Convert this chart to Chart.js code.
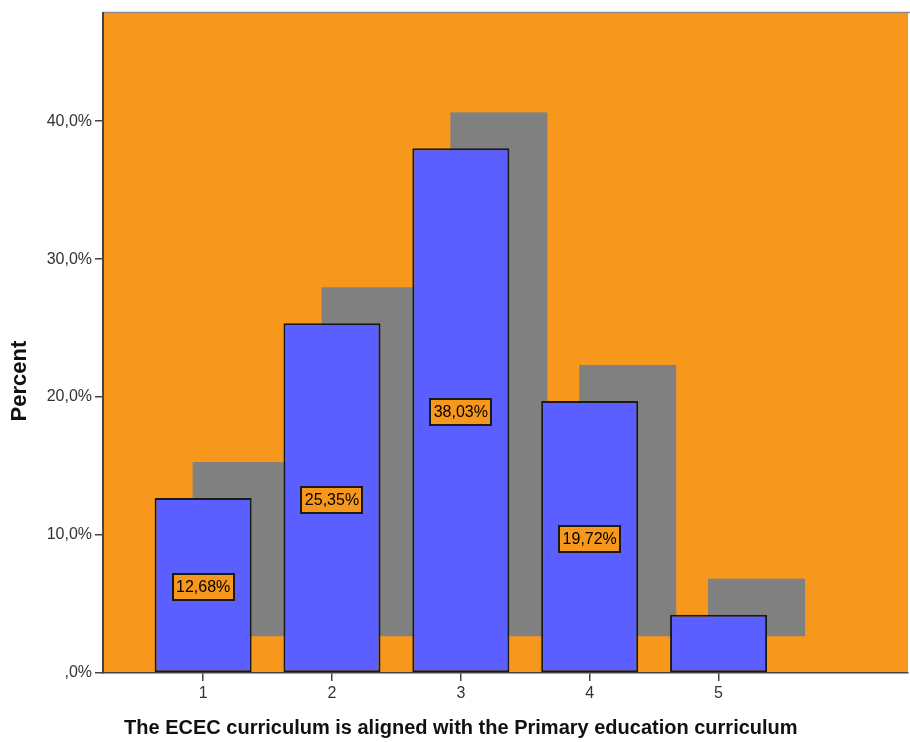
<!DOCTYPE html>
<html>
<head>
<meta charset="utf-8">
<script src="https://cdn.jsdelivr.net/npm/chart.js@4"></script>
<style>
  html, body { margin: 0; padding: 0; background: #ffffff; }
  #wrap { width: 910px; height: 742px; }
</style>
</head>
<body>
<div id="wrap"><canvas id="chart" width="910" height="742"></canvas></div>
<script>
// Survey answers on a 1–5 scale and the share of respondents for each.
const categories = [1, 2, 3, 4, 5];
const percents = [12.68, 25.35, 38.03, 19.72, 4.23];
const showValueLabel = [true, true, true, true, false];
const yTickValues = [0, 10, 20, 30, 40];

const X_TITLE = 'The ECEC curriculum is aligned with the Primary education curriculum';
const Y_TITLE = 'Percent';

const ORANGE = '#F7981D';
const BAR_BLUE = '#5B5FFF';
const SHADOW = '#808080';
const FONT = '"Liberation Sans", Arial, sans-serif';

function fmtPercent(v, digits) {
  const s = v.toFixed(digits).replace('.', ',');
  return (s.startsWith('0,') ? s.slice(1) : s) + '%';
}

// Orange plot background plus a thin frame line along the top.
const backgroundPlugin = {
  id: 'plotBackground',
  beforeDraw(chart) {
    const { ctx, chartArea: a } = chart;
    ctx.save();
    ctx.fillStyle = '#ffffff';
    ctx.fillRect(0, 0, chart.width, chart.height);
    ctx.fillStyle = ORANGE;
    ctx.fillRect(a.left, a.top, a.right - a.left, a.bottom - a.top);
    ctx.strokeStyle = '#8a8a8a';
    ctx.lineWidth = 1.5;
    ctx.beginPath();
    ctx.moveTo(a.left, a.top);
    ctx.lineTo(chart.width, a.top);
    ctx.stroke();
    ctx.restore();
  }
};

// Grey drop shadow behind every bar, offset up and to the right.
const SHADOW_DX = 38, SHADOW_DY = 36;
const shadowPlugin = {
  id: 'barShadow',
  beforeDatasetsDraw(chart) {
    const { ctx } = chart;
    const meta = chart.getDatasetMeta(0);
    ctx.save();
    ctx.fillStyle = SHADOW;
    meta.data.forEach(bar => {
      const p = bar.getProps(['x', 'y', 'base', 'width'], true);
      ctx.fillRect(p.x - p.width / 2 + SHADOW_DX, p.y - SHADOW_DY, p.width, p.base - p.y);
    });
    ctx.restore();
  }
};

// Boxed value labels in the middle of each bar.
const valueLabelPlugin = {
  id: 'valueLabels',
  afterDatasetsDraw(chart) {
    const { ctx } = chart;
    const meta = chart.getDatasetMeta(0);
    ctx.save();
    ctx.font = '16px ' + FONT;
    ctx.textAlign = 'center';
    ctx.textBaseline = 'middle';
    meta.data.forEach((bar, i) => {
      if (!showValueLabel[i]) return;
      const p = bar.getProps(['x', 'y', 'base'], true);
      const text = fmtPercent(percents[i], 2);
      const w = Math.round(ctx.measureText(text).width + 7);
      const h = 26;
      const left = Math.round(p.x - w / 2);
      const top = Math.round((p.y + p.base) / 2 + 2 - h / 2);
      ctx.fillStyle = ORANGE;
      ctx.fillRect(left, top, w, h);
      ctx.strokeStyle = '#1a1a1a';
      ctx.lineWidth = 2;
      ctx.strokeRect(left, top, w, h);
      ctx.fillStyle = '#000000';
      ctx.fillText(text, p.x, top + h / 2 + 1);
    });
    ctx.restore();
  }
};

// Axis titles: the x title is centred under the category ticks.
const axisTitlePlugin = {
  id: 'axisTitles',
  afterDraw(chart) {
    const { ctx, chartArea: a } = chart;
    const xs = chart.scales.x;
    const cx = (xs.getPixelForValue(categories[0]) + xs.getPixelForValue(categories[categories.length - 1])) / 2;
    ctx.save();
    ctx.fillStyle = '#111';
    ctx.textAlign = 'center';
    ctx.textBaseline = 'middle';
    ctx.font = 'bold 20px ' + FONT;
    ctx.fillText(X_TITLE, cx, a.bottom + 55);
    ctx.translate(20, a.bottom - 0.442 * (a.bottom - a.top));
    ctx.rotate(-Math.PI / 2);
    ctx.font = 'bold 22px ' + FONT;
    ctx.fillText(Y_TITLE, 0, 0);
    ctx.restore();
  }
};

new Chart(document.getElementById('chart'), {
  type: 'bar',
  data: {
    datasets: [{
      data: categories.map((c, i) => ({ x: c, y: percents[i] })),
      backgroundColor: BAR_BLUE,
      borderColor: '#1a1a1a',
      borderWidth: 2,
      borderSkipped: false,
      barPercentage: 0.753,
      categoryPercentage: 1.0
    }]
  },
  options: {
    responsive: false,
    animation: false,
    layout: { padding: { left: 0, top: 10, right: 2, bottom: 0 } },
    plugins: {
      legend: { display: false },
      tooltip: { enabled: false }
    },
    scales: {
      x: {
        type: 'linear',
        offset: false,
        min: 0.223,
        max: 6.47,
        afterBuildTicks(scale) { scale.ticks = categories.map(v => ({ value: v })); },
        afterFit(scale) { scale.height = 69; },
        grid: { offset: false, drawOnChartArea: false, drawTicks: true, tickLength: 8, color: '#444', lineWidth: 1.5 },
        border: { display: true, color: '#444', width: 1.5 },
        ticks: {
          color: '#333',
          font: { family: FONT, size: 16 },
          padding: 3,
          callback: v => String(v)
        }
      },
      y: {
        min: 0,
        max: 47.87,
        afterBuildTicks(scale) { scale.ticks = yTickValues.map(v => ({ value: v })); },
        afterFit(scale) { scale.width = 103; },
        grid: { drawOnChartArea: false, drawTicks: true, tickLength: 8, color: '#444', lineWidth: 1.5 },
        border: { display: true, color: '#444', width: 2 },
        ticks: {
          color: '#333',
          font: { family: FONT, size: 16 },
          padding: 3,
          callback: v => fmtPercent(v, 1)
        }
      }
    }
  },
  plugins: [backgroundPlugin, shadowPlugin, valueLabelPlugin, axisTitlePlugin]
});
</script>
</body>
</html>
